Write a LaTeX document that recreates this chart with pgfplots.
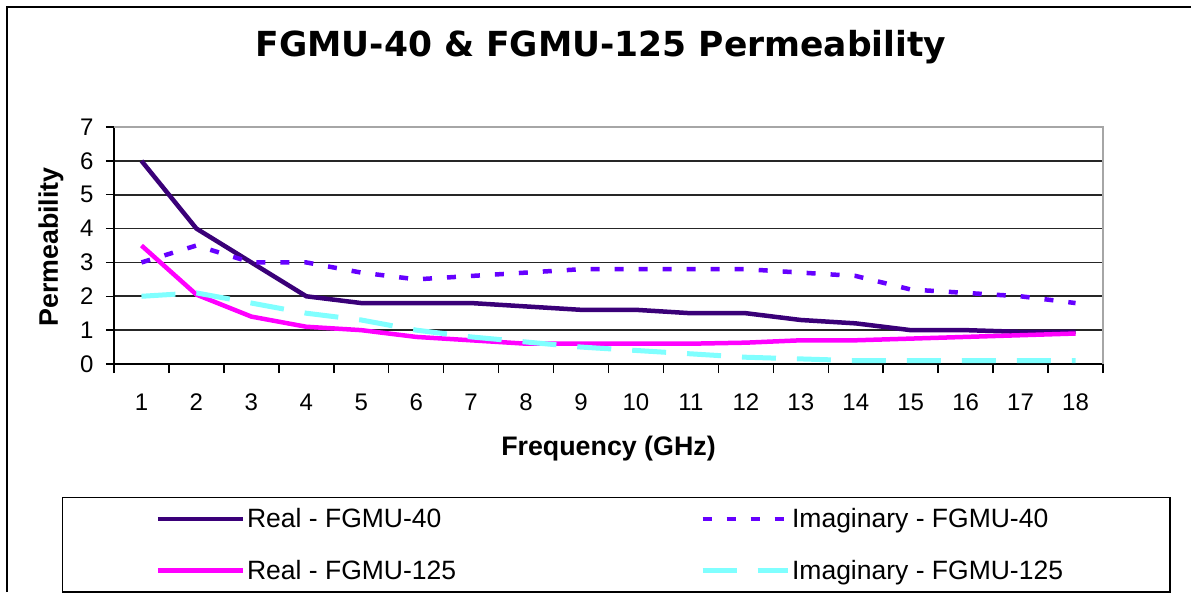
\documentclass[border=0pt]{standalone}
\usepackage{pgfplots}
\pgfplotsset{compat=1.18}
\usepackage{fontspec}
\setmainfont{Liberation Sans}
\newfontfamily\titlefont{DejaVu Sans}
\definecolor{indigoR}{RGB}{58,0,120}
\definecolor{violetI}{RGB}{102,0,255}
\definecolor{magR}{RGB}{255,0,255}
\definecolor{cyanI}{RGB}{128,255,255}
\begin{document}
\begin{tikzpicture}[x=1pt,y=1pt]
\useasboundingbox (0,0) rectangle (1191,592);
\fill[white] (0,0) rectangle (1191,592);
\draw[black,line width=1.5pt] (7,0) -- (7,585) -- (1191,585);
\node[font=\titlefont\bfseries\fontsize{34.5}{40}\selectfont] at (601,545) {FGMU-40 \& FGMU-125 Permeability};
\begin{axis}[
  at={(114pt,228pt)}, anchor=south west,
  width=989pt, height=237pt, scale only axis,
  xmin=0.5, xmax=18.5, ymin=0, ymax=7,
  axis x line*=bottom, axis y line*=left,
  axis line style={black,line width=1.6pt,-},
  xtick={1,...,18},
  minor xtick={0.5,1.5,...,18.5},
  ytick={0,...,7},
  major tick length=8pt, minor tick length=9pt,
  tick align=outside,
  major x tick style={draw=none},
  minor x tick style={black,line width=1.5pt},
  major y tick style={black,line width=1.5pt},
  ymajorgrids,
  major grid style={black!85,line width=1.6pt},
  /pgf/number format/assume math mode=true,
  tick label style={font=\fontsize{24}{28}\selectfont},
  xticklabel style={yshift=-18pt},
  yticklabel style={xshift=-9pt},
  xlabel={\bfseries Frequency (GHz)},
  ylabel={\bfseries Permeability},
  label style={font=\fontsize{26.8}{31}\selectfont},
  xlabel style={at={(axis description cs:0.5,-0.3586)},anchor=center},
  ylabel style={at={(axis description cs:-0.0637,0.4937)},anchor=center,rotate=0},
  legend style={at={(axis description cs:-0.0526,-0.5612)}, anchor=north west,
    draw=black, line width=1.2pt, inner xsep=0pt, inner ysep=11pt,
    font=\fontsize{26.5}{31}\selectfont, column sep=0pt, row sep=31pt,
    nodes={inner sep=0pt}},
  legend columns=2,
  legend cell align=left,
  legend image code/.code={\path (-93pt,0pt) (87pt,0pt); \draw[#1] (0pt,0pt) -- (85pt,0pt);},
  after end axis/.code={\draw[gray!70,line width=1.6pt] (rel axis cs:0,1) -- (rel axis cs:1,1) -- (rel axis cs:1,0);},
]
\addplot[indigoR, line width=4.5pt] coordinates {
(1,6.0) (2,4.0) (3,3.0) (4,2.0) (5,1.8) (6,1.8) (7,1.8) (8,1.7) (9,1.6)
(10,1.6) (11,1.5) (12,1.5) (13,1.3) (14,1.2) (15,1.0) (16,1.0) (17,0.95) (18,0.95)};
\addlegendentry{\makebox[360pt][l]{Real - FGMU-40}}
\addplot[violetI, line width=4.5pt, dash pattern=on 9pt off 15pt] coordinates {
(1,3.0) (2,3.5) (3,3.0) (4,3.0) (5,2.7) (6,2.5) (7,2.6) (8,2.7) (9,2.8)
(10,2.8) (11,2.8) (12,2.8) (13,2.7) (14,2.6) (15,2.2) (16,2.1) (17,2.0) (18,1.8)};
\addlegendentry{\makebox[378pt][l]{Imaginary - FGMU-40}}
\addplot[magR, line width=4.5pt] coordinates {
(1,3.5) (2,2.05) (3,1.4) (4,1.1) (5,1.0) (6,0.8) (7,0.7) (8,0.6) (9,0.6)
(10,0.6) (11,0.6) (12,0.63) (13,0.7) (14,0.7) (15,0.75) (16,0.8) (17,0.85) (18,0.9)};
\addlegendentry{\makebox[360pt][l]{Real - FGMU-125}}
\addplot[cyanI, line width=5pt, dash pattern=on 34pt off 21pt] coordinates {
(1,2.0) (2,2.1) (3,1.8) (4,1.5) (5,1.3) (6,1.0) (7,0.8) (8,0.65) (9,0.5)
(10,0.4) (11,0.3) (12,0.2) (13,0.15) (14,0.1) (15,0.1) (16,0.1) (17,0.1) (18,0.1)};
\addlegendentry{\makebox[378pt][l]{Imaginary - FGMU-125}}
\end{axis}
\end{tikzpicture}
\end{document}
